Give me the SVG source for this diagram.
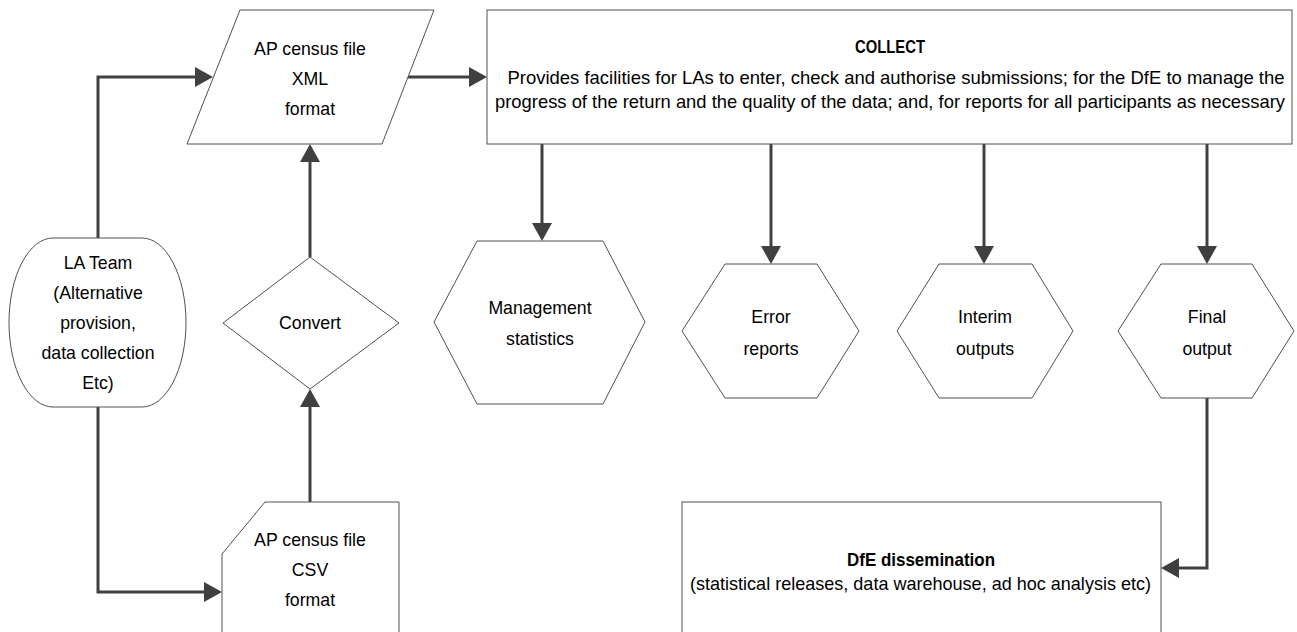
<svg xmlns="http://www.w3.org/2000/svg" width="1297" height="632" viewBox="0 0 1297 632">
<style>
.n{fill:#ffffff;stroke:#505050;stroke-width:1}
.t{font-family:"Liberation Sans",Arial,sans-serif;font-size:17.7px;fill:#000;text-anchor:middle}
.b{font-weight:bold}
.c{fill:none;stroke:#404040;stroke-width:3}
</style>
<defs>
<marker id="ah" markerUnits="userSpaceOnUse" markerWidth="18" markerHeight="20" refX="14" refY="10" orient="auto">
<path d="M0,0 L18,10 L0,20 Z" fill="#404040"/>
</marker>
</defs>
<rect x="0" y="0" width="1297" height="632" fill="#ffffff"/>
<g id="connectors">
<path class="c" d="M98,238 V77 H209" marker-end="url(#ah)"/>
<path class="c" d="M98,407 V592 H218" marker-end="url(#ah)"/>
<path class="c" d="M310,502 V393" marker-end="url(#ah)"/>
<path class="c" d="M310,257 V148" marker-end="url(#ah)"/>
<path class="c" d="M408,77 H483" marker-end="url(#ah)"/>
<path class="c" d="M542,144 V237" marker-end="url(#ah)"/>
<path class="c" d="M771,144 V260" marker-end="url(#ah)"/>
<path class="c" d="M984,144 V260" marker-end="url(#ah)"/>
<path class="c" d="M1207,144 V260" marker-end="url(#ah)"/>
<path class="c" d="M1207,398 V568 H1165" marker-end="url(#ah)"/>
</g>
<g id="la-team">
<rect class="n" x="9" y="238" width="177" height="169" rx="44" ry="84.5"/>
<text class="t" x="98" y="269">LA Team</text>
<text class="t" x="98" y="299">(Alternative</text>
<text class="t" x="98" y="329">provision,</text>
<text class="t" x="98" y="359">data collection</text>
<text class="t" x="98" y="389">Etc)</text>
</g>
<g id="xml-file">
<polygon class="n" points="240,10 434,10 382,144 187,144"/>
<text class="t" x="310" y="55">AP census file</text>
<text class="t" x="310" y="85">XML</text>
<text class="t" x="310" y="115">format</text>
</g>
<g id="convert">
<polygon class="n" points="310,257 399,323 310,389 223,323"/>
<text class="t" x="310" y="329">Convert</text>
</g>
<g id="csv-file">
<path class="n" d="M265,502 H399 V645 H222 V554 Z"/>
<text class="t" x="310" y="546">AP census file</text>
<text class="t" x="310" y="576">CSV</text>
<text class="t" x="310" y="606">format</text>
</g>
<g id="collect">
<rect class="n" x="487" y="10" width="805" height="134"/>
<text class="t b" x="890" y="53" textLength="70" lengthAdjust="spacingAndGlyphs">COLLECT</text>
<text class="t" x="896" y="84" textLength="777" lengthAdjust="spacingAndGlyphs">Provides facilities for LAs to enter, check and authorise submissions; for the DfE to manage the</text>
<text class="t" x="890" y="108" textLength="790" lengthAdjust="spacingAndGlyphs">progress of the return and the quality of the data; and, for reports for all participants as necessary</text>
</g>
<g id="management-statistics">
<polygon class="n" points="477,241 603,241 645,322 603,404 477,404 434,322"/>
<text class="t" x="540" y="314">Management</text>
<text class="t" x="540" y="345">statistics</text>
</g>
<g id="error-reports">
<polygon class="n" points="725,264 817,264 859,331 817,398 725,398 682,331"/>
<text class="t" x="771" y="323">Error</text>
<text class="t" x="771" y="355">reports</text>
</g>
<g id="interim-outputs">
<polygon class="n" points="939,264 1032,264 1073,331 1032,398 939,398 897,331"/>
<text class="t" x="985" y="323">Interim</text>
<text class="t" x="985" y="355">outputs</text>
</g>
<g id="final-output">
<polygon class="n" points="1161,264 1252,264 1294,331 1252,398 1161,398 1118,331"/>
<text class="t" x="1207" y="323">Final</text>
<text class="t" x="1207" y="355">output</text>
</g>
<g id="dfe-dissemination">
<rect class="n" x="682" y="502" width="479" height="150"/>
<text class="t b" x="921" y="566" textLength="148" lengthAdjust="spacingAndGlyphs">DfE dissemination</text>
<text class="t" x="920.5" y="590" textLength="461" lengthAdjust="spacingAndGlyphs">(statistical releases, data warehouse, ad hoc analysis etc)</text>
</g>
</svg>
